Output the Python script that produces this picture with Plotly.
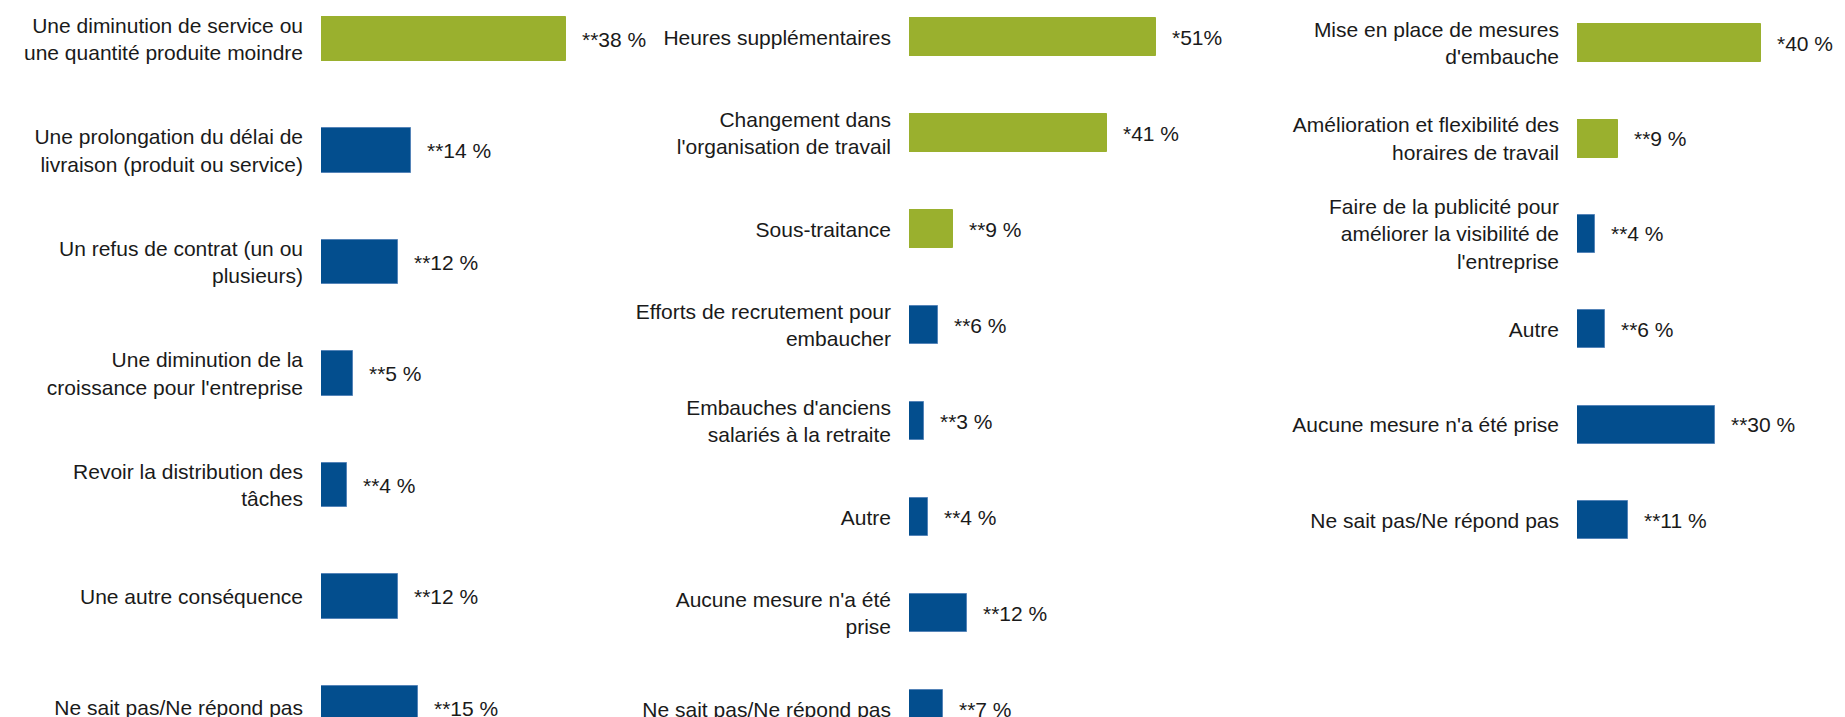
import plotly.graph_objects as go

# panneau 1 : conséquences
cons_labels = [
    "Une diminution de service ou<br>une quantité produite moindre",
    "Une prolongation du délai de<br>livraison (produit ou service)",
    "Un refus de contrat (un ou<br>plusieurs)",
    "Une diminution de la<br>croissance pour l'entreprise",
    "Revoir la distribution des<br>tâches",
    "Une autre conséquence",
    "Ne sait pas/Ne répond pas",
]
cons_values = [38, 14, 12, 5, 4, 12, 15]
cons_text = ["**38 %", "**14 %", "**12 %", "**5 %", "**4 %", "**12 %", "**15 %"]

# panneau 2 : mesures internes
mes_labels = [
    "Heures supplémentaires",
    "Changement dans<br>l'organisation de travail",
    "Sous-traitance",
    "Efforts de recrutement pour<br>embaucher",
    "Embauches d'anciens<br>salariés à la retraite",
    "Autre",
    "Aucune mesure n'a été<br>prise",
    "Ne sait pas/Ne répond pas",
]
mes_values = [51, 41, 9, 6, 3, 4, 12, 7]
mes_text = ["*51%", "*41 %", "**9 %", "**6 %", "**3 %", "**4 %", "**12 %", "**7 %"]

# panneau 3 : mesures d'embauche
emb_labels = [
    "Mise en place de mesures<br>d'embauche",
    "Amélioration et flexibilité des<br>horaires de travail",
    "Faire de la publicité pour<br>améliorer la visibilité de<br>l'entreprise",
    "Autre",
    "Aucune mesure n'a été prise",
    "Ne sait pas/Ne répond pas",
]
emb_values = [40, 9, 4, 6, 30, 11]
emb_text = ["*40 %", "**9 %", "**4 %", "**6 %", "**30 %", "**11 %"]

GREEN = "#9ab02e"
BLUE = "#034e8e"
BLUE_EDGE = "#5584b8"
W, H = 1845, 717
FONT = dict(family="Arial, Liberation Sans, sans-serif", size=21, color="#1a1a1a")

# (labels, valeurs, textes, nb en vert, domaine x en px, max x, plage y)
panels = [
    (cons_labels, cons_values, cons_text, 1, (313, 613), 46.5, [6.152, -0.278]),
    (mes_labels, mes_values, mes_text, 3, (901, 1201), 62.0, [7.164, -0.305]),
    (emb_labels, emb_values, emb_text, 2, (1569, 1800), 50.2, [7.147, -0.369]),
]

fig = go.Figure()
annotations = []
for i, (labels, values, texts, n_green, dom, xmax, yrange) in enumerate(panels, start=1):
    suffix = "" if i == 1 else str(i)
    colors = [GREEN if k < n_green else BLUE for k in range(len(values))]
    edges = [GREEN if k < n_green else BLUE_EDGE for k in range(len(values))]
    fig.add_trace(
        go.Bar(
            x=values,
            y=labels,
            orientation="h",
            width=0.4,
            marker=dict(color=colors, line=dict(color=edges, width=1)),
            xaxis="x" + suffix,
            yaxis="y" + suffix,
            showlegend=False,
            hoverinfo="skip",
        )
    )
    for lab, val, txt in zip(labels, values, texts):
        annotations.append(
            dict(
                x=val, y=lab, xref="x" + suffix, yref="y" + suffix,
                text=txt, showarrow=False, xanchor="left", xshift=14,
                font=FONT,
            )
        )
    fig.update_layout(
        {
            "xaxis" + suffix: dict(
                domain=[dom[0] / W, dom[1] / W], range=[0, xmax], visible=False,
                anchor="y" + suffix,
            ),
            "yaxis" + suffix: dict(
                domain=[0, 1], range=yrange, anchor="x" + suffix,
                showgrid=False, zeroline=False, showline=False, ticks="",
                ticklabelstandoff=17, tickfont=FONT,
            ),
        }
    )

fig.update_layout(
    width=W,
    height=H,
    margin=dict(l=0, r=0, t=0, b=0),
    paper_bgcolor="#ffffff",
    plot_bgcolor="#ffffff",
    font=FONT,
    annotations=annotations,
    bargap=0,
)

fig.write_html("out.html")
